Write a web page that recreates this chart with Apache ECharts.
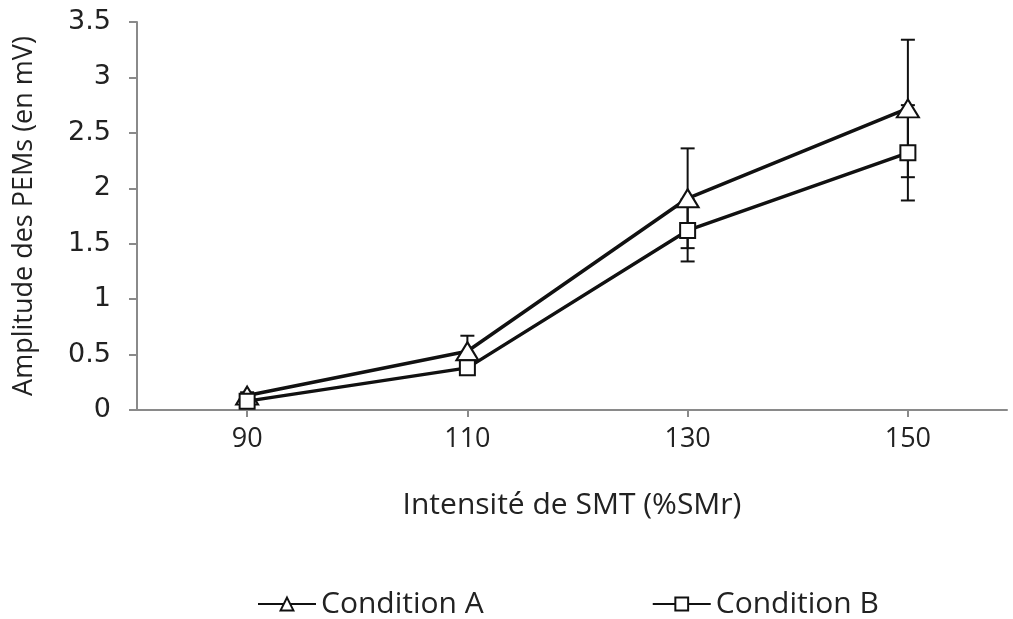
<!DOCTYPE html>
<html>
<head>
<meta charset="utf-8">
<script src="https://cdn.jsdelivr.net/npm/echarts@6/dist/echarts.min.js"></script>
<style>
  html, body { margin: 0; padding: 0; background: #fff; }
  #chart { width: 1013px; height: 619px; }
</style>
</head>
<body>
<div id="chart"></div>
<script>
// stimulation intensity (%SMr)
const intensities = [90, 110, 130, 150]
// MEP amplitude (mV) and error (±)
const condA = [0.13, 0.53, 1.91, 2.72]
const condAErr = [0.03, 0.14, 0.45, 0.62]
const condB = [0.08, 0.38, 1.62, 2.32]
const condBErr = [0.02, 0.05, 0.28, 0.43]

const textColor = '#222'
const axisColor = '#8a8a8a'

const toPoints = (vals) => intensities.map((x, i) => [x, vals[i]])
const toErr = (vals, err) => intensities.map((x, i) => [x, vals[i] - err[i], vals[i] + err[i]])

const renderErr = (params, api) => {
  const x = api.value(0)
  const lo = api.coord([x, api.value(1)])
  const hi = api.coord([x, api.value(2)])
  const half = 7
  const style = { stroke: '#111', lineWidth: 2 }
  return {
    type: 'group',
    children: [
      { type: 'line', shape: { x1: lo[0], y1: lo[1], x2: hi[0], y2: hi[1] }, style },
      { type: 'line', shape: { x1: lo[0] - half, y1: lo[1], x2: lo[0] + half, y2: lo[1] }, style },
      { type: 'line', shape: { x1: hi[0] - half, y1: hi[1], x2: hi[0] + half, y2: hi[1] }, style }
    ]
  }
}

const chart = echarts.init(document.getElementById('chart'))

chart.setOption({
  animation: false,
  grid: { left: 137, right: 6, top: 22, bottom: 209, containLabel: false },
  legend: {
    left: 252,
    top: 584,
    itemWidth: 58,
    itemHeight: 16,
    itemGap: 168,
    textStyle: { fontFamily: 'Open Sans', fontSize: 30, color: textColor },
    data: ['Condition A', 'Condition B']
  },
  xAxis: {
    type: 'value',
    min: 80,
    max: 159,
    name: 'Intensité de SMT (%SMr)',
    nameLocation: 'middle',
    nameGap: 80,
    nameTextStyle: { fontFamily: 'Open Sans', fontSize: 30, color: textColor },
    axisLine: { lineStyle: { color: axisColor, width: 2 } },
    axisTick: { customValues: intensities, length: 7, lineStyle: { color: axisColor, width: 2 } },
    axisLabel: {
      customValues: intensities,
      fontFamily: 'Open Sans',
      fontSize: 27,
      color: textColor,
      margin: 16
    },
    splitLine: { show: false }
  },
  yAxis: {
    type: 'value',
    min: 0,
    max: 3.5,
    interval: 0.5,
    name: 'Amplitude des PEMs (en mV)',
    nameLocation: 'middle',
    nameGap: 99,
    nameTextStyle: { fontFamily: 'Open Sans', fontSize: 27, color: textColor },
    axisLine: { show: true, lineStyle: { color: axisColor, width: 2 } },
    axisTick: { show: true, length: 8, lineStyle: { color: axisColor, width: 2 } },
    axisLabel: { fontFamily: 'DejaVu Sans', fontSize: 27, color: textColor, margin: 26 },
    splitLine: { show: false }
  },
  series: [
    {
      name: 'errA',
      type: 'custom',
      renderItem: renderErr,
      data: toErr(condA, condAErr),
      z: 1,
      silent: true
    },
    {
      name: 'errB',
      type: 'custom',
      renderItem: renderErr,
      data: toErr(condB, condBErr),
      z: 1,
      silent: true
    },
    {
      name: 'Condition A',
      type: 'line',
      data: toPoints(condA),
      symbol: 'triangle',
      symbolSize: [22, 18],
      showAllSymbol: true,
      lineStyle: { color: '#111', width: 3.5 },
      itemStyle: { color: '#fff', borderColor: '#111', borderWidth: 2 },
      z: 3
    },
    {
      name: 'Condition B',
      type: 'line',
      data: toPoints(condB),
      symbol: 'rect',
      symbolSize: 15,
      showAllSymbol: true,
      lineStyle: { color: '#111', width: 3.5 },
      itemStyle: { color: '#fff', borderColor: '#111', borderWidth: 2 },
      z: 3
    }
  ]
})

window.addEventListener('resize', () => chart.resize())
</script>
</body>
</html>
